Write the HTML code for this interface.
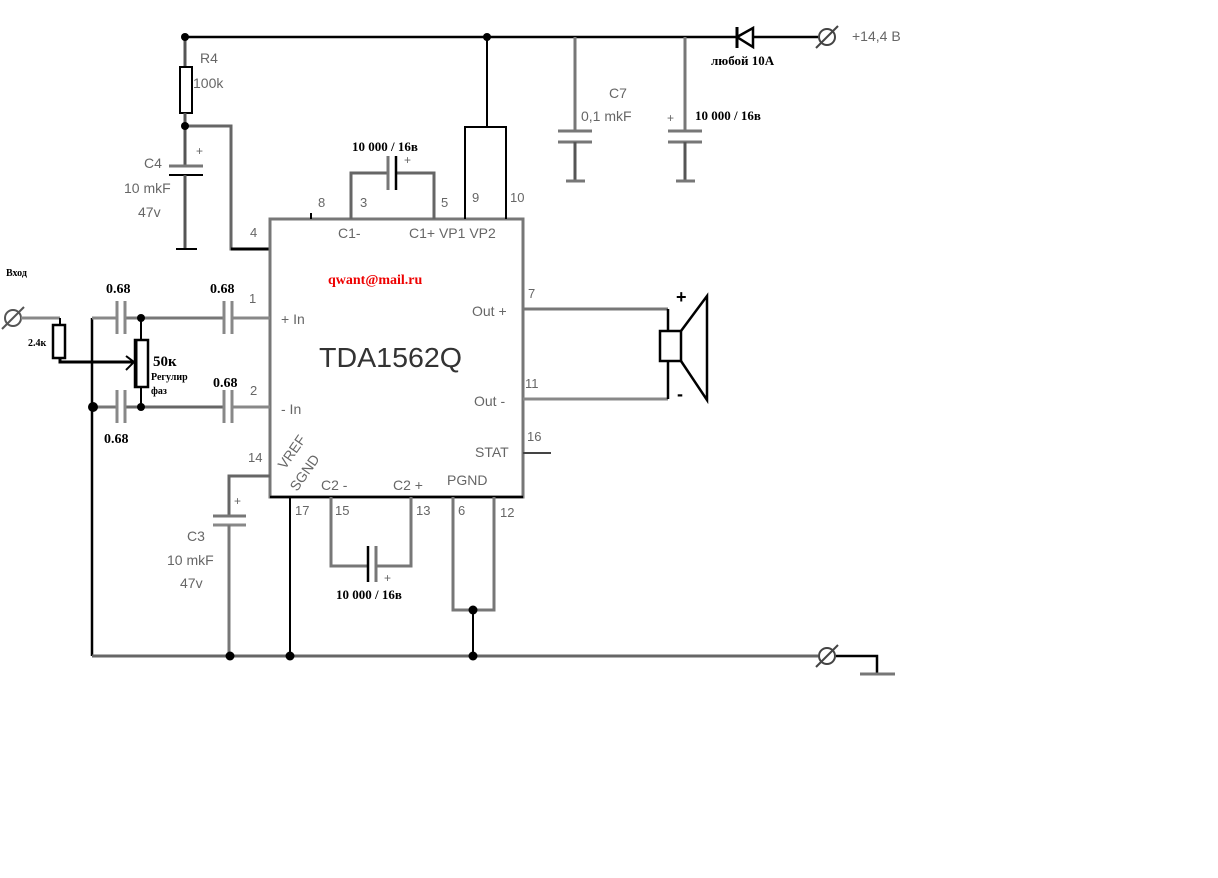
<!DOCTYPE html>
<html><head><meta charset="utf-8"><style>
html,body{margin:0;padding:0;background:#fff;}
svg{display:block}
.s{font-family:"Liberation Sans",sans-serif;fill:#666}
.b{font-family:"Liberation Serif","DejaVu Serif",serif;font-weight:bold;fill:#000}
</style></head><body>
<svg width="1218" height="878" viewBox="0 0 1218 878" xmlns="http://www.w3.org/2000/svg" font-size="14">
<g stroke="#000" stroke-width="2" fill="none">
<line x1="185" y1="37" x2="818" y2="37" stroke-width="2.5"/>
<line x1="185" y1="37" x2="185" y2="67" stroke="#555" stroke-width="3"/>
<rect x="180" y="67" width="12" height="46"/>
<line x1="185" y1="113" x2="185" y2="166" stroke="#555" stroke-width="3"/>
<line x1="169" y1="166" x2="203" y2="166" stroke="#777" stroke-width="3"/>
<line x1="169" y1="175" x2="203" y2="175"/>
<line x1="185" y1="175" x2="185" y2="249" stroke="#555" stroke-width="3"/>
<line x1="176" y1="249" x2="197" y2="249"/>
<polyline points="185,126 231,126 231,249 270,249" stroke="#666" stroke-width="3"/>
<line x1="231" y1="249" x2="270" y2="249" stroke-width="3"/>
<rect x="270" y="219" width="253" height="278" stroke="#777" stroke-width="3"/>
<line x1="270" y1="497" x2="523" y2="497" stroke-width="2.5"/>
<line x1="311" y1="213" x2="311" y2="219"/>
<polyline points="351,219 351,173 388,173" stroke="#666" stroke-width="3"/>
<polyline points="396,173 434,173 434,219" stroke="#666" stroke-width="3"/>
<line x1="388" y1="156" x2="388" y2="190" stroke="#777" stroke-width="3"/>
<line x1="396" y1="156" x2="396" y2="190" stroke-width="2.5"/>
<line x1="487" y1="37" x2="487" y2="127"/>
<polyline points="465,219 465,127 506,127 506,219"/>
<line x1="575" y1="37" x2="575" y2="131" stroke="#777" stroke-width="3"/>
<line x1="558" y1="131" x2="592" y2="131" stroke="#777" stroke-width="3"/>
<line x1="558" y1="142" x2="592" y2="142" stroke="#777" stroke-width="3"/>
<line x1="575" y1="142" x2="575" y2="181" stroke="#555" stroke-width="3"/>
<line x1="566" y1="181" x2="585" y2="181" stroke="#777" stroke-width="3"/>
<line x1="685" y1="37" x2="685" y2="131" stroke="#777" stroke-width="3"/>
<line x1="668" y1="131" x2="702" y2="131" stroke="#777" stroke-width="3"/>
<line x1="668" y1="142" x2="702" y2="142" stroke="#777" stroke-width="3"/>
<line x1="685" y1="142" x2="685" y2="181" stroke="#555" stroke-width="3"/>
<line x1="676" y1="181" x2="695" y2="181" stroke="#777" stroke-width="3"/>
<polygon points="737,37 753,28 753,47" stroke-width="2.5" fill="#fff"/>
<line x1="737" y1="27" x2="737" y2="48" stroke-width="3"/>
<circle cx="827" cy="37" r="8" stroke="#444"/><line x1="816" y1="48" x2="838" y2="26" stroke="#444"/>
<circle cx="13" cy="318" r="8" stroke="#555"/><line x1="2" y1="329" x2="24" y2="307" stroke="#555"/>
<circle cx="827" cy="656" r="8" stroke="#444"/><line x1="816" y1="667" x2="838" y2="645" stroke="#444"/>
<line x1="21" y1="318" x2="60" y2="318" stroke="#888" stroke-width="3"/>
<line x1="60" y1="318" x2="60" y2="325"/>
<rect x="53" y="325" width="12" height="33" stroke-width="2.5"/>
<polyline points="60,358 60,362 133,362" stroke-width="3"/>
<polyline points="126,356 134,362 126,370" stroke-width="2"/>
<rect x="135" y="340" width="13" height="47" stroke-width="2.5"/>
<line x1="136" y1="340" x2="136" y2="387" stroke-width="3"/>
<line x1="92" y1="318" x2="92" y2="656" stroke-width="2.5"/>
<line x1="92" y1="318" x2="117" y2="318" stroke="#888" stroke-width="3"/>
<line x1="125" y1="318" x2="224" y2="318" stroke="#777" stroke-width="3"/>
<line x1="232" y1="318" x2="270" y2="318" stroke="#888" stroke-width="3"/>
<line x1="92" y1="407" x2="117" y2="407" stroke="#777" stroke-width="3"/>
<line x1="125" y1="407" x2="224" y2="407" stroke="#666" stroke-width="3"/>
<line x1="232" y1="407" x2="270" y2="407" stroke="#888" stroke-width="3"/>
<g stroke="#888" stroke-width="3">
<line x1="117" y1="301" x2="117" y2="334"/><line x1="125" y1="301" x2="125" y2="334"/>
<line x1="224" y1="301" x2="224" y2="334"/><line x1="232" y1="301" x2="232" y2="334"/>
<line x1="117" y1="390" x2="117" y2="423"/><line x1="125" y1="390" x2="125" y2="423"/>
<line x1="224" y1="390" x2="224" y2="423"/><line x1="232" y1="390" x2="232" y2="423"/>
</g>
<line x1="141" y1="318" x2="141" y2="340"/>
<line x1="141" y1="387" x2="141" y2="407"/>
<line x1="523" y1="309" x2="668" y2="309" stroke="#777" stroke-width="3"/>
<line x1="523" y1="399" x2="668" y2="399" stroke="#888" stroke-width="3"/>
<line x1="668" y1="309" x2="668" y2="331" stroke-width="2.5"/>
<line x1="668" y1="361" x2="668" y2="399" stroke-width="2.5"/>
<rect x="660" y="331" width="21" height="30" stroke-width="2.5"/>
<polyline points="681,331 707,296 707,400 681,361" stroke-width="2.5"/>
<line x1="523" y1="453" x2="551" y2="453" stroke="#444"/>
<line x1="92" y1="656" x2="818" y2="656" stroke="#666" stroke-width="3"/>
<polyline points="836,656 877,656 877,674" stroke-width="2.5"/>
<line x1="860" y1="674" x2="895" y2="674" stroke="#777" stroke-width="3"/>
<polyline points="270,476 229,476 229,516" stroke="#666" stroke-width="3"/>
<line x1="213" y1="516" x2="246" y2="516" stroke="#777" stroke-width="3"/>
<line x1="213" y1="525" x2="246" y2="525" stroke="#888" stroke-width="3"/>
<line x1="229" y1="525" x2="229" y2="656" stroke="#777" stroke-width="3"/>
<line x1="290" y1="497" x2="290" y2="656"/>
<polyline points="331,497 331,566 368,566" stroke="#777" stroke-width="3"/>
<polyline points="376,566 411,566 411,497" stroke="#777" stroke-width="3"/>
<line x1="368" y1="546" x2="368" y2="582" stroke-width="2.5"/>
<line x1="376" y1="546" x2="376" y2="582" stroke="#777" stroke-width="3"/>
<polyline points="453,497 453,610 494,610 494,497" stroke="#777" stroke-width="3"/>
<line x1="473" y1="610" x2="473" y2="656"/>
</g>
<g fill="#000">
<circle cx="185" cy="37" r="4"/><circle cx="487" cy="37" r="4"/><circle cx="185" cy="126" r="4"/>
<circle cx="141" cy="318" r="4"/><circle cx="141" cy="407" r="4"/><circle cx="93" cy="407" r="5"/>
<circle cx="230" cy="656" r="4.5"/><circle cx="290" cy="656" r="4.5"/><circle cx="473" cy="656" r="4.5"/><circle cx="473" cy="610" r="4.5"/>
</g>
<text class="s" x="200" y="63">R4</text>
<text class="s" x="193" y="88">100k</text>
<text class="s" x="144" y="168">C4</text>
<text class="s" x="124" y="193">10 mkF</text>
<text class="s" x="138" y="217">47v</text>
<text class="s" x="196" y="155" font-size="12">+</text>
<text class="s" x="318" y="207" font-size="13">8</text>
<text class="s" x="360" y="207" font-size="13">3</text>
<text class="s" x="441" y="207" font-size="13">5</text>
<text class="s" x="472" y="202" font-size="13">9</text>
<text class="s" x="510" y="202" font-size="13">10</text>
<text class="s" x="250" y="237" font-size="13">4</text>
<text class="s" x="338" y="238">C1-</text>
<text class="s" x="409" y="238">C1+ VP1 VP2</text>
<text class="b" x="352" y="151" font-size="13">10 000 / 16в</text>
<text class="s" x="404" y="164" font-size="12">+</text>
<text class="s" x="609" y="98">C7</text>
<text class="s" x="581" y="121">0,1 mkF</text>
<text class="s" x="667" y="122" font-size="12">+</text>
<text class="b" x="695" y="120" font-size="13">10 000 / 16в</text>
<text class="b" x="711" y="65" font-size="13">любой 10А</text>
<text class="s" x="852" y="41">+14,4 В</text>
<text class="b" x="6" y="276" font-size="10">Вход</text>
<text class="b" x="28" y="346" font-size="10">2.4к</text>
<text class="b" x="106" y="293" font-size="14">0.68</text>
<text class="b" x="210" y="293" font-size="14">0.68</text>
<text class="b" x="213" y="387" font-size="14">0.68</text>
<text class="b" x="104" y="443" font-size="14">0.68</text>
<text class="b" x="153" y="366" font-size="15">50к</text>
<text class="b" x="151" y="380" font-size="10">Регулир</text>
<text class="b" x="151" y="394" font-size="10">фаз</text>
<text class="s" x="249" y="303" font-size="13">1</text>
<text class="s" x="250" y="395" font-size="13">2</text>
<text class="s" x="281" y="324">+ In</text>
<text class="s" x="281" y="414">- In</text>
<text x="328" y="284" font-family="Liberation Serif,serif" font-weight="bold" font-size="14" fill="#e00">qwant@mail.ru</text>
<text x="319" y="367" font-family="Liberation Sans,sans-serif" font-size="28" fill="#333" textLength="143" lengthAdjust="spacingAndGlyphs">TDA1562Q</text>
<text class="s" x="472" y="316">Out +</text>
<text class="s" x="474" y="406">Out -</text>
<text class="s" x="475" y="457">STAT</text>
<text class="s" x="528" y="298" font-size="13">7</text>
<text class="s" x="525" y="388" font-size="13">11</text>
<text class="s" x="527" y="441" font-size="13">16</text>
<text x="676" y="303" font-family="Liberation Sans,sans-serif" font-size="18" font-weight="bold" fill="#000">+</text>
<text x="677" y="400" font-family="Liberation Sans,sans-serif" font-size="18" font-weight="bold" fill="#000">-</text>
<text class="s" x="248" y="462" font-size="13">14</text>
<text class="s" x="285" y="470" transform="rotate(-55 285 470)">VREF</text>
<text class="s" x="297" y="492" transform="rotate(-55 297 492)">SGND</text>
<text class="s" x="321" y="490">C2 -</text>
<text class="s" x="393" y="490">C2 +</text>
<text class="s" x="447" y="485">PGND</text>
<text class="s" x="295" y="515" font-size="13">17</text>
<text class="s" x="335" y="515" font-size="13">15</text>
<text class="s" x="416" y="515" font-size="13">13</text>
<text class="s" x="458" y="515" font-size="13">6</text>
<text class="s" x="500" y="517" font-size="13">12</text>
<text class="b" x="336" y="599" font-size="13">10 000 / 16в</text>
<text class="s" x="384" y="582" font-size="12">+</text>
<text class="s" x="234" y="505" font-size="12">+</text>
<text class="s" x="187" y="541">C3</text>
<text class="s" x="167" y="565">10 mkF</text>
<text class="s" x="180" y="588">47v</text>
</svg>
</body></html>
